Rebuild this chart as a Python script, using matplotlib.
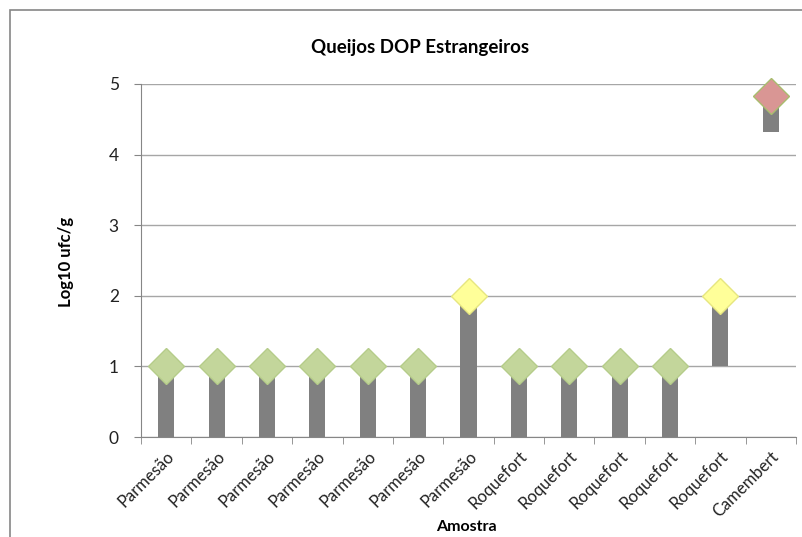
import numpy as np
import matplotlib.pyplot as plt
from matplotlib.patches import Rectangle

plt.rcParams['font.family'] = ['Lato', 'DejaVu Sans']

# dados
amostras = ['Parmesão'] * 7 + ['Roquefort'] * 5 + ['Camembert']
minimo = [0, 0, 0, 0, 0, 0, 0, 0, 0, 0, 0, 1, 4.32]
maximo = [1, 1, 1, 1, 1, 1, 2, 1, 1, 1, 1, 2, 4.83]
cores = ['#C3D69B'] * 6 + ['#FFFF99'] + ['#C3D69B'] * 4 + ['#FFFF99', '#D99694']
bordas = ['#B5CC8A'] * 6 + ['#E6E680'] + ['#B5CC8A'] * 4 + ['#E6E680', '#A8BD6E']

fig = plt.figure(figsize=(8.03, 5.37), dpi=100)
# moldura do gráfico
fig.patches.append(Rectangle((10/803, -0.1), 1.2, (537-10)/537 + 0.1,
                             transform=fig.transFigure, fill=False,
                             edgecolor='#868686', linewidth=1.2))
ax = fig.add_axes([141/803, 1-437/537, 655/803, 353/537])

x = np.arange(len(amostras))
alturas = np.array(maximo) - np.array(minimo)
ax.bar(x, alturas, bottom=minimo, width=0.32, color='#808080', zorder=2)
for xi, yi, c, e in zip(x, maximo, cores, bordas):
    ax.plot(xi, yi, marker='D', markersize=18.5, markerfacecolor=c,
            markeredgecolor=e, markeredgewidth=1, zorder=3, clip_on=False)

ax.set_xlim(-0.5, len(amostras) - 0.5)
ax.set_ylim(0, 5)
ax.set_yticks(range(6))
ax.set_xticks(x)
ax.set_xticklabels(amostras, rotation=45, ha='right', rotation_mode='anchor',
                   fontsize=12, color='#222222')
ax.set_xticks(np.arange(-0.5, len(amostras)), minor=True)
ax.tick_params(axis='x', which='major', length=0, pad=8)
ax.tick_params(axis='x', which='minor', length=5, color='#868686', direction='out')
ax.tick_params(axis='y', length=5, color='#868686', labelsize=12.5, pad=11, labelcolor='#222222')
ax.grid(axis='y', color='#A6A6A6', linewidth=1, zorder=0)
ax.set_axisbelow(True)
for s in ['top', 'right']:
    ax.spines[s].set_visible(False)
for s in ['left', 'bottom']:
    ax.spines[s].set_color('#868686')

fig.text(420/803, 1-47/537, 'Queijos DOP Estrangeiros', ha='center', va='center',
         fontsize=13.5, fontweight='bold')
fig.text(66/803, 1-262/537, 'Log10 ufc/g', ha='center', va='center', rotation=90,
         fontsize=12, fontweight='bold')
fig.text(466/803, 1-527/537, 'Amostra', ha='center', va='center',
         fontsize=11.5, fontweight='bold')

fig.savefig('out.png', dpi=100)
